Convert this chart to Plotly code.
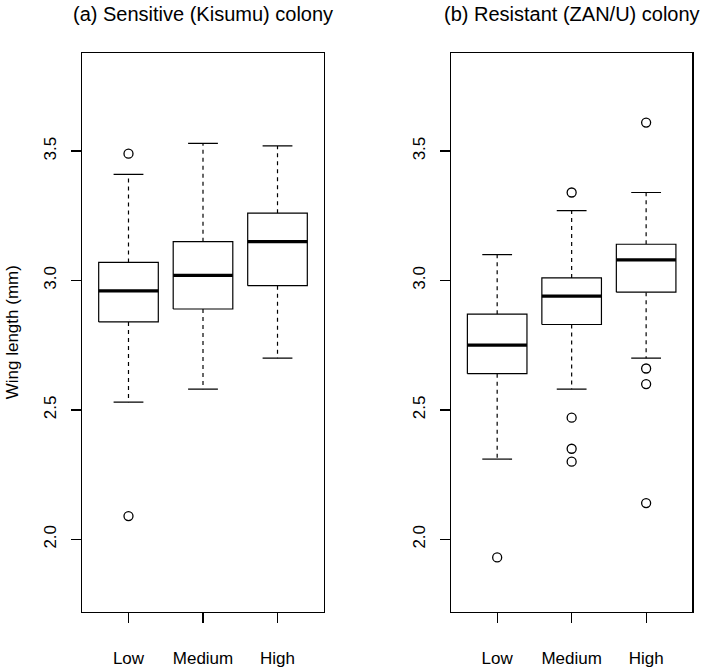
import plotly.graph_objects as go

categories = ["Low", "Medium", "High"]
y_ticks = [2.0, 2.5, 3.0, 3.5]

# (a) Sensitive (Kisumu) colony
a_lo = [2.53, 2.58, 2.70]
a_q1 = [2.84, 2.89, 2.98]
a_med = [2.96, 3.02, 3.15]
a_q3 = [3.07, 3.15, 3.26]
a_hi = [3.41, 3.53, 3.52]
a_out = [[3.49, 2.09], [], []]

# (b) Resistant (ZAN/U) colony
b_lo = [2.31, 2.58, 2.70]
b_q1 = [2.64, 2.83, 2.955]
b_med = [2.75, 2.94, 3.08]
b_q3 = [2.87, 3.01, 3.14]
b_hi = [3.10, 3.27, 3.34]
b_out = [[1.93], [3.34, 2.47, 2.35, 2.30], [3.61, 2.66, 2.60, 2.14]]

titles = ["(a) Sensitive (Kisumu) colony", "(b) Resistant (ZAN/U) colony"]
ylabel = "Wing length (mm)"

W, H = 706, 668
FONT = "Liberation Sans, Arial, Helvetica, sans-serif"
HW = 0.4   # half box width
CW = 0.2   # half staple width

fig = go.Figure()


def add_panel(xa, ya, lo, q1, med, q3, hi, outs):
    bx, by, mx, my, wx, wy, cx, cy, ox, oy = [], [], [], [], [], [], [], [], [], []
    for i in range(len(categories)):
        p = i + 1
        bx += [p - HW, p + HW, p + HW, p - HW, p - HW, None]
        by += [q1[i], q1[i], q3[i], q3[i], q1[i], None]
        mx += [p - HW, p + HW, None]
        my += [med[i], med[i], None]
        wx += [p, p, None, p, p, None]
        wy += [q3[i], hi[i], None, q1[i], lo[i], None]
        cx += [p - CW, p + CW, None, p - CW, p + CW, None]
        cy += [hi[i], hi[i], None, lo[i], lo[i], None]
        for v in outs[i]:
            ox.append(p)
            oy.append(v)
    common = dict(xaxis=xa, yaxis=ya, showlegend=False, hoverinfo="skip")
    fig.add_trace(go.Scatter(x=wx, y=wy, mode="lines",
                             line=dict(color="black", width=1.2, dash="4px,4px"), **common))
    fig.add_trace(go.Scatter(x=cx, y=cy, mode="lines",
                             line=dict(color="black", width=1.2), **common))
    fig.add_trace(go.Scatter(x=bx, y=by, mode="lines", fill="toself", fillcolor="white",
                             line=dict(color="black", width=1.2), **common))
    fig.add_trace(go.Scatter(x=mx, y=my, mode="lines",
                             line=dict(color="black", width=3.2), **common))
    fig.add_trace(go.Scatter(x=ox, y=oy, mode="markers",
                             marker=dict(symbol="circle-open", size=9, color="black",
                                         line=dict(width=1.3, color="black")), **common))


add_panel("x", "y", a_lo, a_q1, a_med, a_q3, a_hi, a_out)
add_panel("x2", "y2", b_lo, b_q1, b_med, b_q3, b_hi, b_out)

xdom_a = [82.3 / W, 323.7 / W]
xdom_b = [451.0 / W, 692.3 / W]
ydom = [(H - 623.0) / H, (H - 53.7) / H]

axis_font = dict(family=FONT, size=17, color="black")
xcommon = dict(range=[0.38, 3.62], tickmode="array", tickvals=[1, 2, 3], ticktext=categories,
               showline=True, linecolor="black", linewidth=1.2, mirror=True,
               ticks="outside", ticklen=10, tickwidth=1.2, tickcolor="black",
               showgrid=False, zeroline=False, tickfont=axis_font, ticklabelstandoff=21)
ycommon = dict(range=[1.72, 3.88], tickmode="array", tickvals=y_ticks,
               ticktext=["%.1f" % t for t in y_ticks], tickangle=-90,
               showline=True, linecolor="black", linewidth=1.2, mirror=True,
               ticks="outside", ticklen=10, tickwidth=1.2, tickcolor="black",
               showgrid=False, zeroline=False, tickfont=axis_font, ticklabelstandoff=8)

fig.update_layout(
    width=W, height=H,
    margin=dict(l=0, r=0, t=0, b=0),
    paper_bgcolor="white", plot_bgcolor="white",
    xaxis=dict(domain=xdom_a, anchor="y", **xcommon),
    yaxis=dict(domain=ydom, anchor="x", **ycommon),
    xaxis2=dict(domain=xdom_b, anchor="y2", **xcommon),
    yaxis2=dict(domain=ydom, anchor="x2", **ycommon),
    font=dict(family=FONT, color="black"),
    annotations=[
        dict(text=titles[0], x=(xdom_a[0] + xdom_a[1]) / 2, y=(H - 14) / H,
             xref="paper", yref="paper", xanchor="center", yanchor="middle",
             showarrow=False, font=dict(family=FONT, size=20, color="black")),
        dict(text=titles[1], x=(xdom_b[0] + xdom_b[1]) / 2, y=(H - 14) / H,
             xref="paper", yref="paper", xanchor="center", yanchor="middle",
             showarrow=False, font=dict(family=FONT, size=20, color="black")),
        dict(text=ylabel, x=12 / W, y=(ydom[0] + ydom[1]) / 2, textangle=-90,
             xref="paper", yref="paper", xanchor="center", yanchor="middle",
             showarrow=False, font=dict(family=FONT, size=17, color="black")),
    ],
)

fig.write_html("out.html", config={"displayModeBar": False, "staticPlot": True},
               post_script="document.body.style.margin='0';document.body.style.padding='0';")
